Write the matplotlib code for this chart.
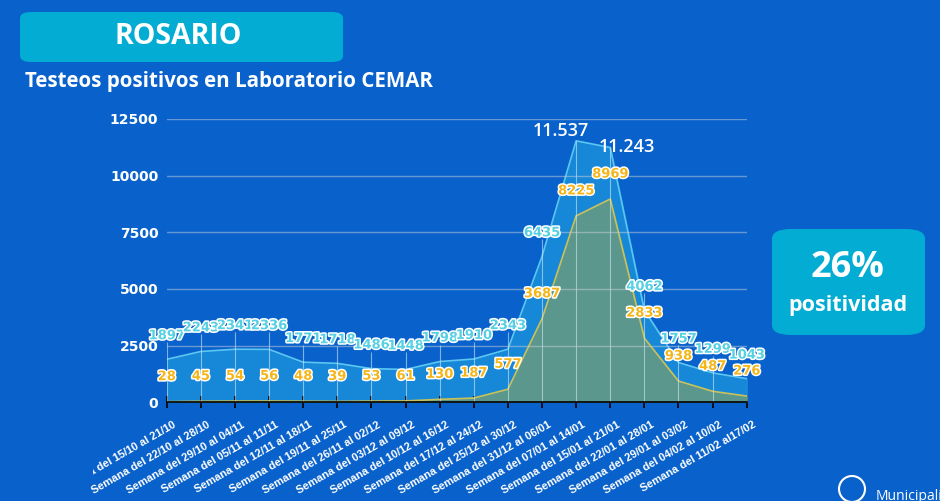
import matplotlib
matplotlib.use("Agg")
import matplotlib.pyplot as plt
import matplotlib.patheffects as pe
from matplotlib.patches import FancyBboxPatch, Circle
from matplotlib.transforms import ScaledTranslation, Bbox
import numpy as np

# Data
semanas = ["Semana del 15/10 al 21/10", "Semana del 22/10 al 28/10", "Semana del 29/10 al 04/11",
           "Semana del 05/11 al 11/11", "Semana del 12/11 al 18/11", "Semana del 19/11 al 25/11",
           "Semana del 26/11 al 02/12", "Semana del 03/12 al 09/12", "Semana del 10/12 al 16/12",
           "Semana del 17/12 al 24/12", "Semana del 25/12 al 30/12", "Semana del 31/12 al 06/01",
           "Semana del 07/01 al 14/01", "Semana del 15/01 al 21/01", "Semana del 22/01 al 28/01",
           "Semana del 29/01 al 03/02", "Semana del 04/02 al 10/02", "Semana del 11/02 al17/02"]
testeos = [1897, 2243, 2341, 2336, 1771, 1718, 1486, 1448, 1798, 1910, 2343, 6435,
           11537, 11243, 4062, 1757, 1299, 1043]
positivos = [28, 45, 54, 56, 48, 39, 53, 61, 130, 187, 577, 3687, 8225, 8969, 2833, 938, 487, 276]
yticks = [0, 2500, 5000, 7500, 10000, 12500]

BG = "#0962cc"
BOX = "#02acd3"
OUTER = "#1787d8"
OUTER_EDGE = "#5cc6f2"
INNER = "#5b978c"
INNER_EDGE = "#c9c25a"
CYAN = "#56d0e2"
ORANGE = "#f6b516"

x = np.arange(len(testeos))
t = np.array(testeos)
p = np.array(positivos)

fig = plt.figure(figsize=(9.4, 5.01), dpi=100, facecolor=BG)
W, H = 940, 501
ax = fig.add_axes([166.7 / W, (H - 402.3) / H, 580 / W, 283.3 / H])
ax.set_facecolor(BG)
ax.set_xlim(0, len(x) - 1)
ax.set_ylim(0, 12500)

# areas
ax.fill_between(x, 0, t, color=OUTER, zorder=1)
ax.plot(x, t, color=OUTER_EDGE, lw=1.2, zorder=2)
ax.fill_between(x, 0, p, color=INNER, zorder=3)
ax.plot(x, p, color=INNER_EDGE, lw=1.2, zorder=4)

# drop lines
peak = t > 10000
tops = np.where(peak, t, t + 750)
ax.vlines(x, 0, tops, color="#cfe8f5", lw=0.8, alpha=0.6, zorder=5)

# grid on top
for v in yticks[1:]:
    ax.axhline(v, color="#c8cfd8", lw=1.0, alpha=0.5, zorder=6)

for s in ["top", "right", "left"]:
    ax.spines[s].set_visible(False)
ax.spines["bottom"].set_color("black")
ax.spines["bottom"].set_linewidth(1.2)
ax.spines["bottom"].set_zorder(7)

ax.set_yticks(yticks)
ax.set_yticklabels([str(v) for v in yticks], fontsize=10, fontweight="bold",
                   color="white", family="DejaVu Sans")
ax.tick_params(axis="y", length=0, pad=6)
ax.set_xticks(x)
ax.set_xticklabels(semanas, rotation=30, ha="right", va="top", rotation_mode="anchor",
                   fontsize=7.9, color="white", family="Liberation Sans", fontweight="bold")
ax.tick_params(axis="x", direction="inout", length=9, width=1.2, color="black", pad=8)
off = ScaledTranslation(6 / 100, 0, fig.dpi_scale_trans)
for lab in ax.get_xticklabels():
    lab.set_transform(lab.get_transform() + off)
first = ax.get_xticklabels()[0]
first.set_clip_box(Bbox([[93, 0], [W, H]]))
first.set_clip_on(True)

stroke = [pe.withStroke(linewidth=2.2, foreground="white")]
for i in range(len(x)):
    if not peak[i]:
        ax.annotate(str(testeos[i]), (x[i], t[i]), xytext=(0, 17), textcoords="offset points",
                    ha="center", va="center", fontsize=9.4, fontweight="bold", color=CYAN,
                    family="DejaVu Sans", path_effects=stroke, zorder=10, annotation_clip=False)
    ax.annotate(str(positivos[i]), (x[i], p[i]), xytext=(0, 18), textcoords="offset points",
                ha="center", va="center", fontsize=9.4, fontweight="bold", color=ORANGE,
                family="DejaVu Sans", path_effects=stroke, zorder=10, annotation_clip=False)

# peak labels
i1, i2 = np.where(peak)[0]
ax.annotate(f"{testeos[i1] // 1000}.{testeos[i1] % 1000:03d}", (x[i1], t[i1]), xytext=(-11, 7),
            textcoords="offset points", ha="center", va="center", fontsize=13,
            fontweight="semibold", color="white", family="Open Sans", zorder=10,
            annotation_clip=False)
ax.annotate(f"{testeos[i2] // 1000}.{testeos[i2] % 1000:03d}", (x[i2], t[i2]), xytext=(12, 0),
            textcoords="offset points", ha="center", va="center", fontsize=13,
            fontweight="semibold", color="white", family="Open Sans", zorder=10,
            annotation_clip=False)

# header
fig.patches.append(FancyBboxPatch((20 / W, (H - 62) / H), 323 / W, 50 / H,
                                  boxstyle="round,pad=0,rounding_size=0.012",
                                  transform=fig.transFigure, facecolor=BOX, edgecolor="none"))
fig.text(178 / W, (H - 36) / H, "ROSARIO", ha="center", va="center", fontsize=20.5,
         fontweight="bold", color="white", family="Open Sans")
fig.text(25 / W, (H - 82) / H, "Testeos positivos en Laboratorio CEMAR", ha="left",
         va="center", fontsize=14.8, fontweight="bold", color="white", family="Open Sans")

# positivity box
fig.patches.append(FancyBboxPatch((772 / W, (H - 335) / H), 153 / W, 106 / H,
                                  boxstyle="round,pad=0,rounding_size=0.02",
                                  transform=fig.transFigure, facecolor=BOX, edgecolor="none"))
fig.text(848 / W, (H - 268) / H, "26%", ha="center", va="center", fontsize=26,
         fontweight="bold", color="white", family="Open Sans")
fig.text(848 / W, (H - 306) / H, "positividad", ha="center", va="center", fontsize=15.5,
         fontweight="bold", color="white", family="Open Sans")

# logo
fig.patches.append(Circle((8.52, 0.12), 0.13, transform=fig.dpi_scale_trans,
                          facecolor="none", edgecolor="white", lw=1.5))
fig.text(876 / W, (H - 496) / H, "Municipalidad", ha="left", va="center", fontsize=10,
         color="white", family="Open Sans")

fig.savefig("out.png", dpi=100, facecolor=BG)
